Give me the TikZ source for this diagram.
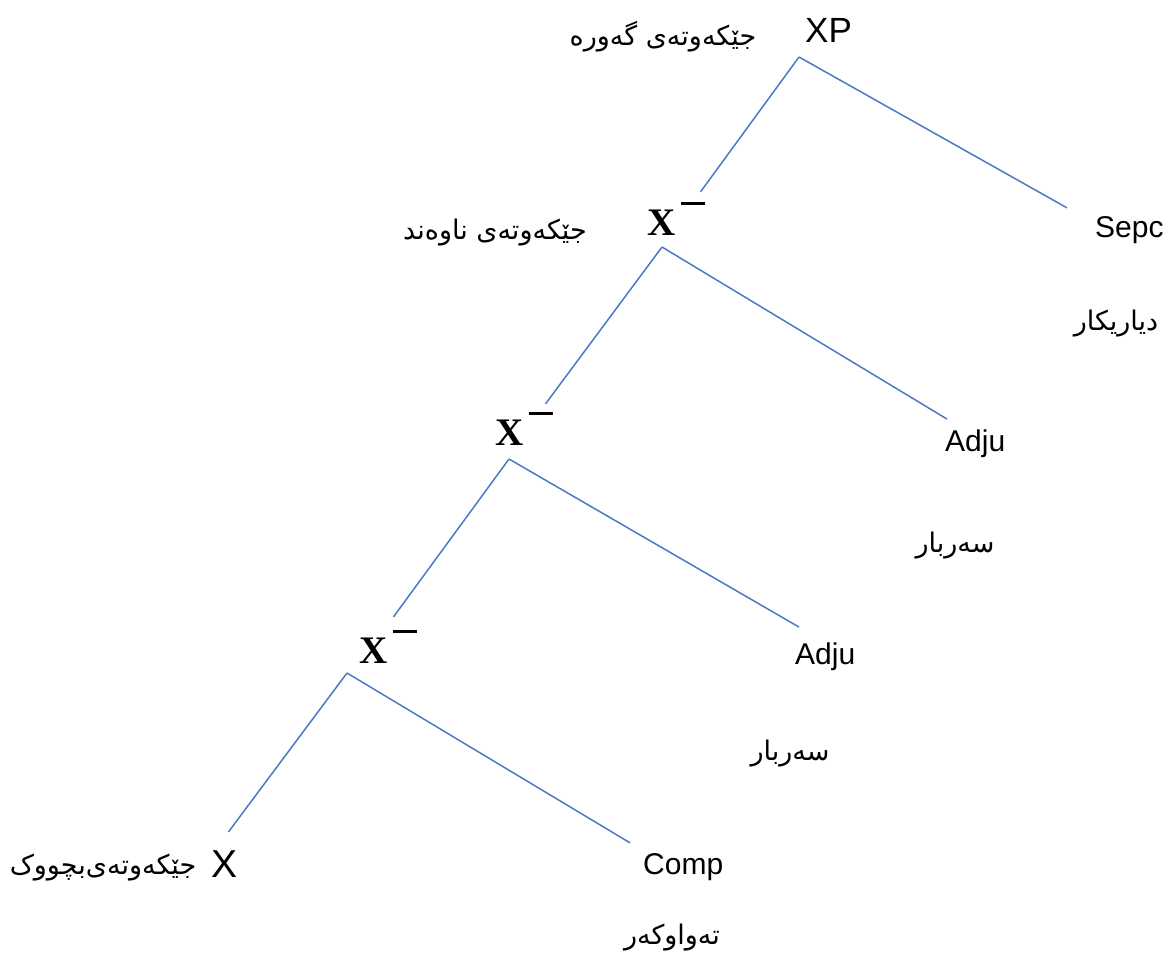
\documentclass[tikz,border=0pt]{standalone}
\usepackage{fontspec}
\setmainfont{Liberation Sans}
\newfontfamily\arabicfont[Script=Arabic]{DejaVu Sans}
\newfontfamily\xbarfont{Liberation Serif}
\TeXXeTstate=1
\definecolor{treeblue}{RGB}{74,122,196}
\newcommand{\ku}[1]{{\arabicfont\beginR #1\endR}}
\newcommand{\xbar}{X\kern6pt\raisebox{30pt}{\rule{24pt}{3pt}}}

\begin{document}
\begin{tikzpicture}[x=1pt,y=-1pt,every node/.style={inner sep=0pt}]
\tikzstyle{cat}=[anchor=base west,font=\fontsize{30}{36}\selectfont]
\tikzstyle{bar}=[anchor=base west,font=\xbarfont\bfseries\fontsize{39}{44}\selectfont]
\tikzstyle{gloss}=[font=\fontsize{27}{32}\selectfont]
\tikzstyle{limb}=[draw=treeblue,line width=1.5pt]

\useasboundingbox (0,0) rectangle (1171,954);

\node[cat,font=\fontsize{35}{40}\selectfont] (xp) at (805,42) {XP};
\node[gloss] (xpl) at (663,37) {\ku{جێکەوتەی گەورە}};

\node[bar] (xb1) at (647,235) {\xbar};
\node[gloss] (xb1l) at (495,233) {\ku{جێکەوتەی ناوەند}};
\node[cat] (sepc) at (1095,237) {Sepc};
\node[gloss] (sepcl) at (1116,324) {\ku{دیاریکار}};

\node[bar] (xb2) at (495,445) {\xbar};
\node[cat] (adj1) at (945,451) {Adju};
\node[gloss] (adj1l) at (955,546) {\ku{سەربار}};

\node[bar] (xb3) at (359,663) {\xbar};
\node[cat] (adj2) at (795,664) {Adju};
\node[gloss] (adj2l) at (790,754) {\ku{سەربار}};

\node[cat,font=\fontsize{39}{44}\selectfont] (x) at (211,877) {X};
\node[gloss] (xl) at (103,868) {\ku{جێکەوتەی‌بچووک}};
\node[cat] (comp) at (643,874) {Comp};
\node[gloss] (compl) at (672,938) {\ku{تەواوکەر}};

\coordinate (a0) at (799,57);
\coordinate (a1) at (662,247);
\coordinate (a2) at (509,459);
\coordinate (a3) at (347,673);

\draw[limb] (a0) -- ([xshift=-5pt,yshift=10pt]xb1.north east);
\draw[limb] (a0) -- ([xshift=-28pt,yshift=8pt]sepc.north west);
\draw[limb] (a1) -- ([xshift=-8pt,yshift=8pt]xb2.north east);
\draw[limb] (a1) -- ([xshift=2pt,yshift=10pt]adj1.north west);
\draw[limb] (a2) -- ([xshift=-24pt,yshift=13pt]xb3.north east);
\draw[limb] (a2) -- ([xshift=4pt,yshift=15pt]adj2.north west);
\draw[limb] (a3) -- ([xshift=-9pt,yshift=18pt]x.north east);
\draw[limb] (a3) -- ([xshift=-13pt,yshift=10pt]comp.north west);
\end{tikzpicture}
\end{document}
